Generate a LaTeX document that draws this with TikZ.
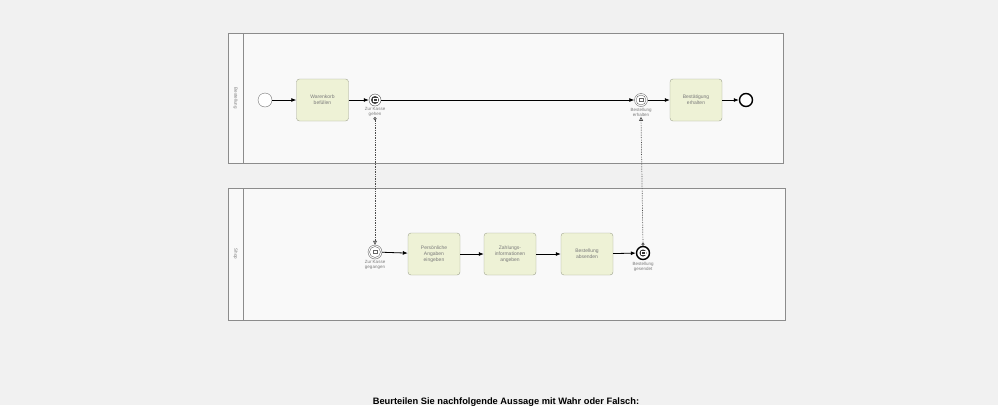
\documentclass[tikz,border=0pt]{standalone}
\usepackage{fontspec}
\setmainfont{Liberation Sans}
\usetikzlibrary{calc, arrows.meta, positioning}

\definecolor{bggray}{HTML}{F1F1F1}
\definecolor{poolgray}{HTML}{8C8C8C}
\definecolor{taskfill}{HTML}{EEF2D6}
\definecolor{taskline}{HTML}{A0A490}
\definecolor{txtgray}{HTML}{7A7A7A}

\begin{document}
\begin{tikzpicture}[x=1pt, y=-1pt, thin,
  task/.style={draw=taskline, fill=taskfill, rounded corners=3pt, minimum width=52pt,
    minimum height=42pt, inner sep=1pt, align=center, text width=46pt,
    font=\fontsize{5}{5.8}\selectfont, text=txtgray},
  evt/.style={circle, draw=black!70, fill=white, minimum size=14pt, inner sep=0pt},
  endevt/.style={circle, draw=black, line width=1.4pt, fill=white, minimum size=13pt, inner sep=0pt},
  evtlabel/.style={font=\fontsize{4.5}{5}\selectfont, text=txtgray, align=center, inner sep=0.5pt},
  flow/.style={-{Latex[length=5pt, width=4pt]}, black, line width=0.8pt},
  msgflow/.style={densely dotted, black!70, line width=0.7pt, {Circle[open, length=3pt]}-{Triangle[open, length=4pt, width=4pt]}},
  pool/.style={draw=poolgray, line width=0.8pt, fill=white!60!bggray}]

% 背景
\fill[bggray] (0,0) rectangle (998,405);
\useasboundingbox (0,0) rectangle (998,405);

% 泳池
\draw[pool] (228,33) rectangle (783,163);
\draw[poolgray, line width=0.8pt] (243,33) -- (243,163);
\node[rotate=-90, font=\fontsize{4.5}{4.5}\selectfont, text=txtgray] at (235.5,98) {Bestellung};
\draw[pool] (228,188) rectangle (785,320);
\draw[poolgray, line width=0.8pt] (243,188) -- (243,320);
\node[rotate=-90, font=\fontsize{4.5}{4.5}\selectfont, text=txtgray] at (235.5,254) {Shop};

% 上方流程
\node[evt, draw=black!55] (start) at (265,100) {};
\node[task] (korb) at (322.5,100) {Warenkorb\\befüllen};
\node[evt, minimum size=12pt, draw=black!70] (kasse) at (375,100) {};
\node[circle, fill=black!75, minimum size=8pt, inner sep=0pt] at (kasse) {};
\draw[white, line width=0.4pt] ($(kasse)+(-2.2,-1.5)$) rectangle ($(kasse)+(2.2,1.5)$);
\node[evtlabel, below=0.5pt of kasse] (kasselbl) {Zur Kasse\\gehen};
\node[evt, minimum size=13pt, draw=black!60] (empf) at (641,100) {};
\node[circle, draw=black!60, minimum size=10pt, inner sep=0pt] at (empf) {};
\draw[black!60, line width=0.4pt] ($(empf)+(-2.2,-1.5)$) rectangle ($(empf)+(2.2,1.5)$);
\node[evtlabel, below=0.5pt of empf] (empflbl) {Bestellung\\erhalten};
\node[task] (best) at (696,100) {Bestätigung\\erhalten};
\node[endevt] (ende) at (746,100) {};

\draw[flow] (start) -- (korb);
\draw[flow] (korb) -- (kasse);
\draw[flow] (kasse) -- (empf);
\draw[flow] (empf) -- (best);
\draw[flow] (best) -- (ende);

% 下方流程
\node[evt, draw=black!60] (gegangen) at (375,252) {};
\node[circle, draw=black!60, minimum size=11pt, inner sep=0pt] at (gegangen) {};
\draw[black!60, line width=0.4pt] ($(gegangen)+(-2.2,-1.5)$) rectangle ($(gegangen)+(2.2,1.5)$);
\node[evtlabel, below=0.5pt of gegangen] (gegangenlbl) {Zur Kasse\\gegangen};
\node[task] (angaben) at (434,254) {Persönliche\\Angaben\\eingeben};
\node[task] (zahlung) at (510,254) {Zahlungs-\\informationen\\angeben};
\node[task] (senden) at (587,254) {Bestellung\\absenden};
\node[endevt] (gesendet) at (643,253) {};
\node[circle, fill=black!80, minimum size=7pt, inner sep=0pt] at (gesendet) {};
\draw[white, line width=0.4pt] ($(gesendet)+(-2,-1.4)$) rectangle ($(gesendet)+(2,1.4)$);
\node[evtlabel, below=1pt of gesendet] (gesendetlbl) {Bestellung\\gesendet};

\draw[flow] (gegangen) -- (angaben);
\draw[flow] (angaben) -- (zahlung);
\draw[flow] (zahlung) -- (senden);
\draw[flow] (senden) -- (gesendet);

% 消息流
\draw[msgflow] (kasselbl.south) -- (gegangen.north);
\draw[msgflow] (gesendet.north) -- (empflbl.south);

% 题目
\node[font=\bfseries\fontsize{9.3}{10}\selectfont, anchor=base] (frage) at (506,404) {Beurteilen Sie nachfolgende Aussage mit Wahr oder Falsch:};

\end{tikzpicture}
\end{document}
